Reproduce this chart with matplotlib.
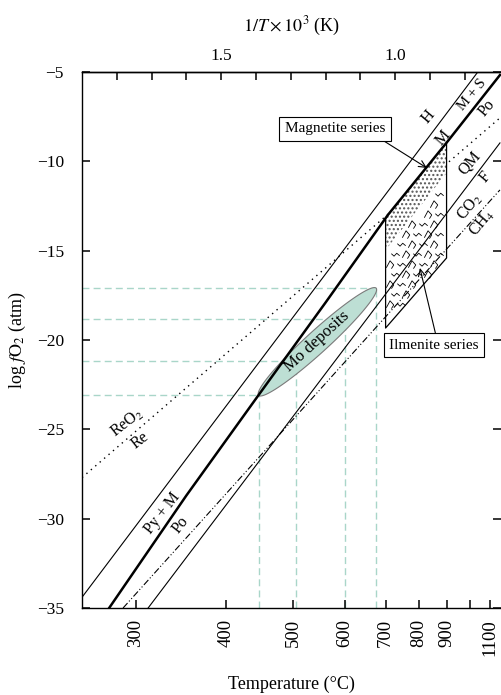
import numpy as np
import matplotlib
matplotlib.use("Agg")
import matplotlib.pyplot as plt
from matplotlib.path import Path
from matplotlib.patches import Polygon

plt.rcParams['font.family'] = ['Liberation Serif', 'DejaVu Serif']
plt.rcParams['mathtext.fontset'] = 'stix'
plt.rcParams['font.size'] = 12
plt.rcParams['hatch.linewidth'] = 1.0


def inv_t(temp_c):
    # 1000/T with T in kelvin
    return 1000.0 / (np.asarray(temp_c, dtype=float) + 273.15)


# ---- buffer curves: x = 1000/T (K), y = log fO2 ----
hm_invT = [1.90, 0.765]
hm_logfo2 = [-34.4, -5.06]

po_invT = [1.822, 1.60, 1.397, 1.20, 1.021, 0.848, 0.699]
po_logfo2 = [-35.0, -28.7, -23.2, -17.9, -13.0, -8.85, -5.17]

qfm_invT = [1.710, 0.699]
qfm_logfo2 = [-35.0, -8.97]

co2_invT = [1.782, 0.699]
co2_logfo2 = [-35.0, -11.6]

reo2_invT = [1.90, 0.699]
reo2_logfo2 = [-27.7, -7.57]

# ---- granitoid field (700-900 C) ----
field_temp = [700, 900]
field_split = [-14.96, -10.65]   # magnetite / ilmenite series boundary
field_bottom = [-19.33, -15.41]

# ---- Mo deposits ----
mo_temp = [445, 505, 600, 675]
mo_logfo2 = [-23.1, -21.2, -18.8, -17.1]

# axis ticks
temp_ticks = [300, 400, 500, 600, 700, 800, 900, 1000, 1100]
temp_labels = ['300', '400', '500', '600', '700', '800', '900', '', '1100']
invT_ticks = [1.8, 1.7, 1.6, 1.5, 1.4, 1.3, 1.2, 1.1, 1.0, 0.9, 0.8]
invT_labels = ['', '', '', '1.5', '', '', '', '', '1.0', '', '']
y_ticks = [-35, -30, -25, -20, -15, -10, -5]

W, H = 501, 695
fig = plt.figure(figsize=(W / 100, H / 100), dpi=100)
ax = fig.add_axes([82 / W, 1 - 608 / H, 1 - 82 / W, (608 - 72) / H])
ax.set_xlim(1.9, 1.9 - 419 / 348)
ax.set_ylim(-35, -5)

# Mo deposit guide lines
guide = '#a9d6c9'
mo_u = inv_t(mo_temp)
for u, y in zip(mo_u, mo_logfo2):
    ax.plot([1.9, u], [y, y], color=guide, lw=1.0, dashes=(5, 3), zorder=1)
    ax.plot([u, u], [-35, y], color=guide, lw=1.0, dashes=(5, 3), zorder=1)

# Mo deposits ellipse, built in display space between the two end points
p0 = ax.transData.transform((mo_u[0], mo_logfo2[0]))
p1 = ax.transData.transform((mo_u[-1], mo_logfo2[-1]))
c = (p0 + p1) / 2
a = (p1 - p0) / 2
b = np.array([-a[1], a[0]]) / np.hypot(*a) * 11
t = np.linspace(0, 2 * np.pi, 120)
ell = ax.transData.inverted().transform(c + np.outer(np.cos(t), a) + np.outer(np.sin(t), b))
ax.add_patch(Polygon(ell, closed=True, fc='#bddfd4', ec='#7a7a7a', lw=0.8, zorder=2))
mid = ax.transData.inverted().transform(c)
ang = np.degrees(np.arctan2(a[1], a[0]))
ax.text(mid[0], mid[1], 'Mo deposits', rotation=ang, rotation_mode='anchor',
        ha='center', va='center', fontsize=12, zorder=6)

# buffers
ax.plot(reo2_invT, reo2_logfo2, color='k', lw=1.0, dashes=(1, 3.2), zorder=3)
ax.plot(hm_invT, hm_logfo2, color='k', lw=0.8, zorder=3)
ax.plot(qfm_invT, qfm_logfo2, color='k', lw=0.8, zorder=3)
ax.plot(co2_invT, co2_logfo2, color='k', lw=0.8, dashes=(6, 2, 1, 2, 1, 2), zorder=3)

# granitoid field
fu = inv_t(field_temp)
field_top = np.interp(fu, po_invT[::-1], po_logfo2[::-1])
mag = [(fu[0], field_split[0]), (fu[0], field_top[0]),
       (fu[1], field_top[1]), (fu[1], field_split[1])]
ax.add_patch(Polygon(mag, closed=True, fc='white', ec='#555555', lw=0,
                     hatch='....', zorder=4))
ilm = [(fu[0], field_split[0]), (fu[0], field_bottom[0]),
       (fu[1], field_bottom[1]), (fu[1], field_split[1])]
ax.plot([fu[0], fu[0], fu[1], fu[1]],
        [field_top[0], field_bottom[0], field_bottom[1], field_top[1]],
        color='k', lw=0.9, zorder=5)

# granite-like symbols inside the ilmenite series field
zig = Path([(-1, 0.2), (-0.35, -0.4), (0.3, 0.3), (1, -0.3)],
           [Path.MOVETO, Path.LINETO, Path.LINETO, Path.LINETO])
hook = Path([(-0.9, -0.7), (-0.1, 0.8), (0.7, -0.1), (0.2, -0.9)],
            [Path.MOVETO, Path.LINETO, Path.LINETO, Path.LINETO])
ilm_disp = ax.transData.transform(ilm)
ilm_path = Path(ilm_disp)
x0, y0 = ilm_disp.min(axis=0)
x1, y1 = ilm_disp.max(axis=0)
pts_z, pts_h = [], []
for i, yy in enumerate(np.arange(y0 + 4, y1, 10)):
    for j, xx in enumerate(np.arange(x0 + 4 + (i % 2) * 5, x1, 11)):
        if ilm_path.contains_point((xx, yy), radius=-5):
            (pts_z if (i + j) % 2 else pts_h).append((xx, yy))
for pts, mk in ((pts_z, zig), (pts_h, hook)):
    d = ax.transData.inverted().transform(np.array(pts))
    ax.plot(d[:, 0], d[:, 1], ls='none', marker=mk, ms=6, mfc='none',
            mec='k', mew=0.6, zorder=5)

ax.plot(po_invT, po_logfo2, color='k', lw=1.8, zorder=5)

# buffer labels
lab = dict(ha='center', va='center', rotation_mode='anchor', zorder=6)
ax.text(0.906, -7.52, 'H', rotation=50, fontsize=12, **lab)
ax.text(0.863, -8.69, 'M', rotation=50, fontsize=11.5, **lab)
ax.text(0.779, -6.29, 'M + S', rotation=50, fontsize=10.5, **lab)
ax.text(0.736, -7.01, 'Po', rotation=50, fontsize=11.5, **lab)
ax.text(0.785, -10.09, 'QM', rotation=50, fontsize=11.5, **lab)
ax.text(0.742, -10.88, 'F', rotation=50, fontsize=11.5, **lab)
ax.text(0.785, -12.56, r'CO$_2$', rotation=50, fontsize=11.5, **lab)
ax.text(0.751, -13.45, r'CH$_4$', rotation=50, fontsize=11.5, **lab)
ax.text(1.771, -24.65, r'ReO$_2$', rotation=38, fontsize=11.5, **lab)
ax.text(1.733, -25.60, 'Re', rotation=38, fontsize=11.5, **lab)
ax.text(1.670, -29.68, 'Py + M', rotation=52, fontsize=11.5, **lab)
ax.text(1.618, -30.35, 'Po', rotation=52, fontsize=11.5, **lab)

arrow = dict(arrowstyle='->,head_length=0.45,head_width=0.22', lw=0.8,
             color='k', shrinkA=0, shrinkB=0)
box = dict(boxstyle='square,pad=0.35', fc='white', ec='k', lw=0.8)
ax.annotate('Magnetite series', xy=(0.909, -10.37), xytext=(1.173, -8.19),
            ha='center', va='center', fontsize=11, bbox=box, zorder=7,
            arrowprops=dict(arrow, relpos=(0.9, 0)))
ax.annotate('Ilmenite series', xy=(0.929, -15.97), xytext=(0.8885, -20.28),
            ha='center', va='center', fontsize=11, bbox=box, zorder=7,
            arrowprops=dict(arrow, relpos=(0.53, 1)))

# axes
ax.set_yticks(y_ticks)
ax.set_yticklabels([f'\u2212{abs(v)}' for v in y_ticks])
ax.set_xticks(inv_t(temp_ticks))
ax.set_xticklabels(temp_labels, rotation=90)
ax.tick_params(direction='in', length=6, width=1.1, right=True, labelright=False,
               labelsize=12.5)
ax.tick_params(axis='y', pad=13)
ax.tick_params(axis='x', pad=8, labelsize=13.5)
ax.spines['right'].set_visible(False)
for s in ('left', 'bottom', 'top'):
    ax.spines[s].set_linewidth(1.0)

sec = ax.secondary_xaxis('top')
sec.set_xticks(invT_ticks)
sec.set_xticklabels(invT_labels)
sec.tick_params(direction='in', length=6, width=1.1, labelsize=12.5, pad=6)
sec.spines['top'].set_linewidth(1.0)
sec.set_xlabel(r'$1/T \times 10^3$ (K)', fontsize=13, labelpad=12)

ax.set_xlabel('Temperature (°C)', fontsize=13, labelpad=14)
ax.set_ylabel(r'log $f\mathrm{O}_2$ (atm)', fontsize=13, labelpad=6)

fig.savefig('out.png', dpi=100)
